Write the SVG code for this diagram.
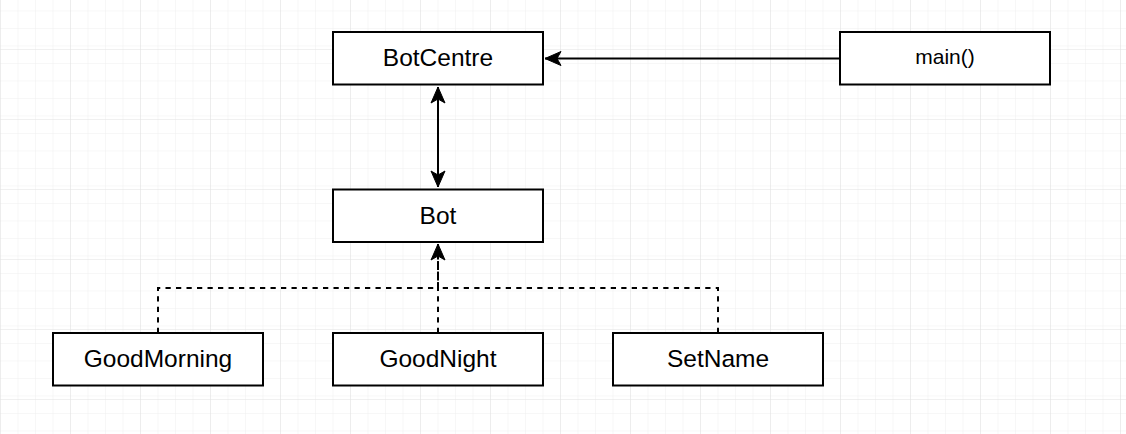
<svg xmlns="http://www.w3.org/2000/svg" width="1126" height="434" viewBox="0 0 1126 434">
<defs>
<pattern id="minor" width="17.5" height="17.5" patternUnits="userSpaceOnUse" x="0" y="-21">
<path d="M 17.5 0 L 0 0 0 17.5" fill="none" stroke="#efefef" stroke-width="1"/>
</pattern>
<pattern id="major" width="70" height="70" patternUnits="userSpaceOnUse" x="0" y="-21">
<rect width="70" height="70" fill="url(#minor)"/>
<path d="M 70 0 L 0 0 0 70" fill="none" stroke="#e2e2e2" stroke-width="1"/>
</pattern>
<marker id="arr" markerUnits="userSpaceOnUse" markerWidth="20" markerHeight="20" viewBox="-18 -10 20 20" refX="0" refY="0" orient="auto-start-reverse" overflow="visible">
<path d="M 0 0 L -16 -7 L -12 0 L -16 7 Z" fill="#000" stroke="#000" stroke-width="1"/>
</marker>
<style>
.box{fill:#fff;stroke:#000;stroke-width:2}
.lbl{font-family:"Liberation Sans",Arial,sans-serif;font-size:24.5px;fill:#000;text-anchor:middle;dominant-baseline:central}
.sm{font-size:21px}
.ln{fill:none;stroke:#000;stroke-width:2}
.dash{stroke-dasharray:5.25 5.25}
</style>
</defs>
<rect width="1126" height="434" fill="#fff"/>
<rect width="1126" height="434" fill="url(#major)"/>
<g id="connectors">
<path class="ln" d="M 840 58.5 L 545 58.5" marker-end="url(#arr)"/>
<path class="ln" d="M 438 87 L 438 187" marker-start="url(#arr)" marker-end="url(#arr)"/>
<path class="ln dash" d="M 158 333 L 158 288 L 438 288 L 438 244"/>
<path class="ln dash" d="M 438 333 L 438 244"/>
<path class="ln dash" d="M 718 333 L 718 288 L 438 288 L 438 244" marker-end="url(#arr)"/>
</g>
<g id="botcentre"><rect class="box" x="333" y="32" width="210" height="52.5"/><text class="lbl" x="438" y="57.5">BotCentre</text></g>
<g id="main"><rect class="box" x="840" y="32" width="210" height="52.5"/><text class="lbl sm" x="945" y="56">main()</text></g>
<g id="bot"><rect class="box" x="333" y="189.5" width="210" height="52.5"/><text class="lbl" x="438" y="215">Bot</text></g>
<g id="goodmorning"><rect class="box" x="53" y="333" width="210" height="52.5"/><text class="lbl" x="158" y="358.5">GoodMorning</text></g>
<g id="goodnight"><rect class="box" x="333" y="333" width="210" height="52.5"/><text class="lbl" x="438" y="358.5">GoodNight</text></g>
<g id="setname"><rect class="box" x="613" y="333" width="210" height="52.5"/><text class="lbl" x="718" y="358.5">SetName</text></g>
</svg>
